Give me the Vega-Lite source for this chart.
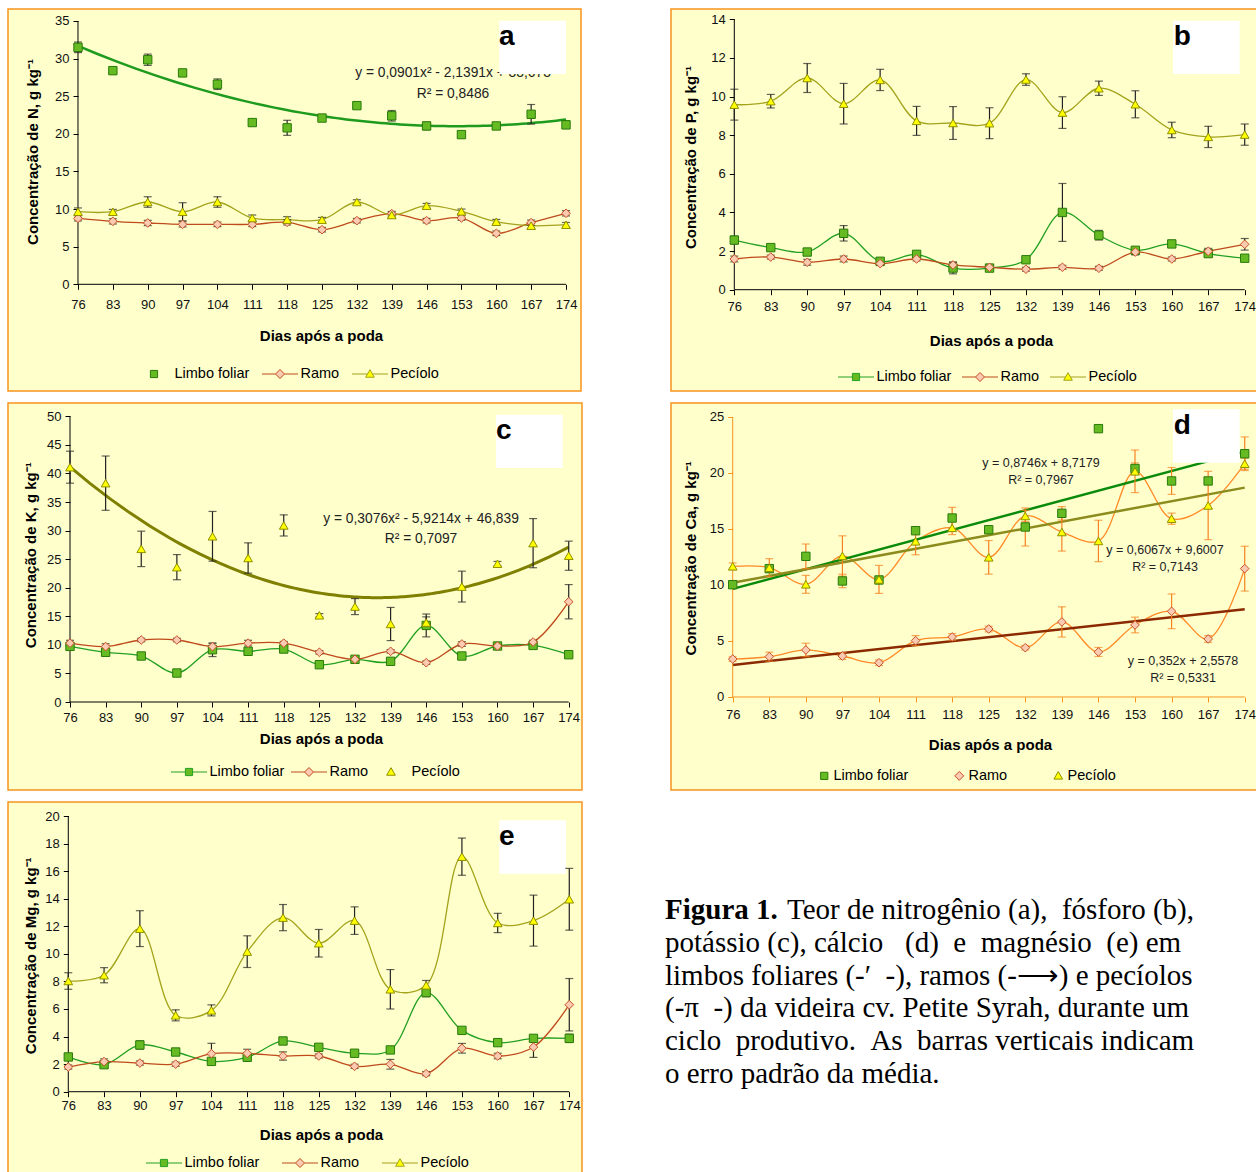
{
"$schema": "https://vega.github.io/schema/vega-lite/v6.json",
"background": "#FFFFFF",
"padding": {"left": 7, "top": 8, "right": 0, "bottom": 0},
"config": {"view": {"fill": "#FFFFCC", "stroke": "#F7941E", "strokeWidth": 1.5}, "font": "Liberation Sans", "concat": {"spacing": 10}},
"datasets": {
"N": [
{"dia":76,"serie":"Limbo foliar","v":31.5,"e":0.7},{"dia":83,"serie":"Limbo foliar","v":28.4,"e":0.4},{"dia":90,"serie":"Limbo foliar","v":29.85,"e":0.75},{"dia":97,"serie":"Limbo foliar","v":28.1,"e":0.3},{"dia":104,"serie":"Limbo foliar","v":26.6,"e":0.7},{"dia":111,"serie":"Limbo foliar","v":21.5,"e":0.4},{"dia":118,"serie":"Limbo foliar","v":20.8,"e":1.0},{"dia":125,"serie":"Limbo foliar","v":22.1,"e":0.4},{"dia":132,"serie":"Limbo foliar","v":23.75,"e":0.35},{"dia":139,"serie":"Limbo foliar","v":22.4,"e":0.7},{"dia":146,"serie":"Limbo foliar","v":21.05,"e":0.5},{"dia":153,"serie":"Limbo foliar","v":19.9,"e":0.3},{"dia":160,"serie":"Limbo foliar","v":21.05,"e":0.4},{"dia":167,"serie":"Limbo foliar","v":22.6,"e":1.3},{"dia":174,"serie":"Limbo foliar","v":21.2,"e":0.5},
{"dia":76,"serie":"Ramo","v":8.77,"e":0.35},{"dia":83,"serie":"Ramo","v":8.37,"e":0.35},{"dia":90,"serie":"Ramo","v":8.15,"e":0.35},{"dia":97,"serie":"Ramo","v":7.97,"e":0.35},{"dia":104,"serie":"Ramo","v":7.97,"e":0.3},{"dia":111,"serie":"Ramo","v":7.97,"e":0.3},{"dia":118,"serie":"Ramo","v":8.24,"e":0.35},{"dia":125,"serie":"Ramo","v":7.26,"e":0.3},{"dia":132,"serie":"Ramo","v":8.46,"e":0.3},{"dia":139,"serie":"Ramo","v":9.39,"e":0.3},{"dia":146,"serie":"Ramo","v":8.46,"e":0.3},{"dia":153,"serie":"Ramo","v":8.81,"e":0.3},{"dia":160,"serie":"Ramo","v":6.78,"e":0.3},{"dia":167,"serie":"Ramo","v":8.19,"e":0.35},{"dia":174,"serie":"Ramo","v":9.44,"e":0.35},
{"dia":76,"serie":"Pecíolo","v":9.65,"e":0.5},{"dia":83,"serie":"Pecíolo","v":9.65,"e":0.3},{"dia":90,"serie":"Pecíolo","v":10.94,"e":0.7},{"dia":97,"serie":"Pecíolo","v":9.65,"e":1.2},{"dia":104,"serie":"Pecíolo","v":10.94,"e":0.7},{"dia":111,"serie":"Pecíolo","v":8.81,"e":0.4},{"dia":118,"serie":"Pecíolo","v":8.59,"e":0.4},{"dia":125,"serie":"Pecíolo","v":8.59,"e":0.3},{"dia":132,"serie":"Pecíolo","v":10.94,"e":0.3},{"dia":139,"serie":"Pecíolo","v":9.21,"e":0.3},{"dia":146,"serie":"Pecíolo","v":10.45,"e":0.3},{"dia":153,"serie":"Pecíolo","v":9.7,"e":0.3},{"dia":160,"serie":"Pecíolo","v":8.32,"e":0.3},{"dia":167,"serie":"Pecíolo","v":7.79,"e":0.4},{"dia":174,"serie":"Pecíolo","v":7.92,"e":0.3}
],
"P": [
{"dia":76,"serie":"Limbo foliar","v":2.57,"e":0.2},{"dia":83,"serie":"Limbo foliar","v":2.18,"e":0.1},{"dia":90,"serie":"Limbo foliar","v":1.95,"e":0.1},{"dia":97,"serie":"Limbo foliar","v":2.92,"e":0.4},{"dia":104,"serie":"Limbo foliar","v":1.47,"e":0.1},{"dia":111,"serie":"Limbo foliar","v":1.83,"e":0.1},{"dia":118,"serie":"Limbo foliar","v":1.12,"e":0.3},{"dia":125,"serie":"Limbo foliar","v":1.12,"e":0.1},{"dia":132,"serie":"Limbo foliar","v":1.55,"e":0.1},{"dia":139,"serie":"Limbo foliar","v":4.0,"e":1.5},{"dia":146,"serie":"Limbo foliar","v":2.82,"e":0.25},{"dia":153,"serie":"Limbo foliar","v":2.04,"e":0.1},{"dia":160,"serie":"Limbo foliar","v":2.37,"e":0.15},{"dia":167,"serie":"Limbo foliar","v":1.87,"e":0.15},{"dia":174,"serie":"Limbo foliar","v":1.63,"e":0.1},
{"dia":76,"serie":"Ramo","v":1.59,"e":0.15},{"dia":83,"serie":"Ramo","v":1.69,"e":0.1},{"dia":90,"serie":"Ramo","v":1.42,"e":0.15},{"dia":97,"serie":"Ramo","v":1.59,"e":0.15},{"dia":104,"serie":"Ramo","v":1.35,"e":0.1},{"dia":111,"serie":"Ramo","v":1.59,"e":0.1},{"dia":118,"serie":"Ramo","v":1.28,"e":0.15},{"dia":125,"serie":"Ramo","v":1.16,"e":0.1},{"dia":132,"serie":"Ramo","v":1.06,"e":0.1},{"dia":139,"serie":"Ramo","v":1.16,"e":0.1},{"dia":146,"serie":"Ramo","v":1.11,"e":0.1},{"dia":153,"serie":"Ramo","v":1.95,"e":0.15},{"dia":160,"serie":"Ramo","v":1.59,"e":0.1},{"dia":167,"serie":"Ramo","v":1.99,"e":0.15},{"dia":174,"serie":"Ramo","v":2.35,"e":0.3},
{"dia":76,"serie":"Pecíolo","v":9.58,"e":0.8},{"dia":83,"serie":"Pecíolo","v":9.76,"e":0.35},{"dia":90,"serie":"Pecíolo","v":10.96,"e":0.75},{"dia":97,"serie":"Pecíolo","v":9.63,"e":1.05},{"dia":104,"serie":"Pecíolo","v":10.86,"e":0.55},{"dia":111,"serie":"Pecíolo","v":8.74,"e":0.75},{"dia":118,"serie":"Pecíolo","v":8.63,"e":0.85},{"dia":125,"serie":"Pecíolo","v":8.62,"e":0.8},{"dia":132,"serie":"Pecíolo","v":10.88,"e":0.3},{"dia":139,"serie":"Pecíolo","v":9.17,"e":0.82},{"dia":146,"serie":"Pecíolo","v":10.43,"e":0.37},{"dia":153,"serie":"Pecíolo","v":9.6,"e":0.7},{"dia":160,"serie":"Pecíolo","v":8.27,"e":0.4},{"dia":167,"serie":"Pecíolo","v":7.91,"e":0.55},{"dia":174,"serie":"Pecíolo","v":8.03,"e":0.55}
],
"K": [
{"dia":76,"serie":"Limbo foliar","v":9.74,"e":0.5},{"dia":83,"serie":"Limbo foliar","v":8.7,"e":0.5},{"dia":90,"serie":"Limbo foliar","v":8.05,"e":0.3},{"dia":97,"serie":"Limbo foliar","v":5.07,"e":0.2},{"dia":104,"serie":"Limbo foliar","v":9.15,"e":1.2},{"dia":111,"serie":"Limbo foliar","v":8.87,"e":0.4},{"dia":118,"serie":"Limbo foliar","v":9.27,"e":0.3},{"dia":125,"serie":"Limbo foliar","v":6.53,"e":0.3},{"dia":132,"serie":"Limbo foliar","v":7.47,"e":0.4},{"dia":139,"serie":"Limbo foliar","v":7.12,"e":0.3},{"dia":146,"serie":"Limbo foliar","v":13.4,"e":2.0},{"dia":153,"serie":"Limbo foliar","v":8.05,"e":0.4},{"dia":160,"serie":"Limbo foliar","v":9.8,"e":0.3},{"dia":167,"serie":"Limbo foliar","v":9.9,"e":0.5},{"dia":174,"serie":"Limbo foliar","v":8.28,"e":0.4},
{"dia":76,"serie":"Ramo","v":10.3,"e":0.5},{"dia":83,"serie":"Ramo","v":9.7,"e":0.5},{"dia":90,"serie":"Ramo","v":10.85,"e":0.3},{"dia":97,"serie":"Ramo","v":10.85,"e":0.3},{"dia":104,"serie":"Ramo","v":9.7,"e":0.5},{"dia":111,"serie":"Ramo","v":10.3,"e":0.5},{"dia":118,"serie":"Ramo","v":10.3,"e":0.3},{"dia":125,"serie":"Ramo","v":8.7,"e":0.3},{"dia":132,"serie":"Ramo","v":7.47,"e":0.3},{"dia":139,"serie":"Ramo","v":8.87,"e":0.3},{"dia":146,"serie":"Ramo","v":6.88,"e":0.3},{"dia":153,"serie":"Ramo","v":10.15,"e":0.4},{"dia":160,"serie":"Ramo","v":9.8,"e":0.3},{"dia":167,"serie":"Ramo","v":10.5,"e":0.3},{"dia":174,"serie":"Ramo","v":17.55,"e":3.0},
{"dia":76,"serie":"Pecíolo","v":41.1,"e":2.8},{"dia":83,"serie":"Pecíolo","v":38.3,"e":4.75},{"dia":90,"serie":"Pecíolo","v":26.8,"e":3.1},{"dia":97,"serie":"Pecíolo","v":23.6,"e":2.2},{"dia":104,"serie":"Pecíolo","v":29.0,"e":4.35},{"dia":111,"serie":"Pecíolo","v":25.2,"e":2.65},{"dia":118,"serie":"Pecíolo","v":30.9,"e":1.85},{"dia":125,"serie":"Pecíolo","v":15.17,"e":0.3},{"dia":132,"serie":"Pecíolo","v":16.7,"e":1.4},{"dia":139,"serie":"Pecíolo","v":13.65,"e":2.9},{"dia":146,"serie":"Pecíolo","v":13.9,"e":1.0},{"dia":153,"serie":"Pecíolo","v":20.2,"e":2.7},{"dia":160,"serie":"Pecíolo","v":24.2,"e":0.4},{"dia":167,"serie":"Pecíolo","v":27.8,"e":4.3},{"dia":174,"serie":"Pecíolo","v":25.6,"e":2.55}
],
"Ca": [
{"dia":76,"serie":"Limbo foliar","v":10.03,"e":0.2},{"dia":83,"serie":"Limbo foliar","v":11.46,"e":0.3},{"dia":90,"serie":"Limbo foliar","v":12.56,"e":1.1},{"dia":97,"serie":"Limbo foliar","v":10.36,"e":0.6},{"dia":104,"serie":"Limbo foliar","v":10.45,"e":0.3},{"dia":111,"serie":"Limbo foliar","v":14.85,"e":0.35},{"dia":118,"serie":"Limbo foliar","v":15.98,"e":0.95},{"dia":125,"serie":"Limbo foliar","v":14.94,"e":0.3},{"dia":132,"serie":"Limbo foliar","v":15.18,"e":1.7},{"dia":139,"serie":"Limbo foliar","v":16.4,"e":0.6},{"dia":146,"serie":"Limbo foliar","v":23.96,"e":0.3},{"dia":153,"serie":"Limbo foliar","v":20.4,"e":0.5},{"dia":160,"serie":"Limbo foliar","v":19.29,"e":1.2},{"dia":167,"serie":"Limbo foliar","v":19.29,"e":0.3},{"dia":174,"serie":"Limbo foliar","v":21.72,"e":1.5},
{"dia":76,"serie":"Ramo","v":3.39,"e":0.2},{"dia":83,"serie":"Ramo","v":3.6,"e":0.4},{"dia":90,"serie":"Ramo","v":4.2,"e":0.6},{"dia":97,"serie":"Ramo","v":3.66,"e":0.3},{"dia":104,"serie":"Ramo","v":3.06,"e":0.25},{"dia":111,"serie":"Ramo","v":5.03,"e":0.45},{"dia":118,"serie":"Ramo","v":5.36,"e":0.3},{"dia":125,"serie":"Ramo","v":6.07,"e":0.25},{"dia":132,"serie":"Ramo","v":4.4,"e":0.2},{"dia":139,"serie":"Ramo","v":6.7,"e":1.35},{"dia":146,"serie":"Ramo","v":4.02,"e":0.4},{"dia":153,"serie":"Ramo","v":6.43,"e":0.7},{"dia":160,"serie":"Ramo","v":7.65,"e":1.55},{"dia":167,"serie":"Ramo","v":5.18,"e":0.3},{"dia":174,"serie":"Ramo","v":11.46,"e":2.0},
{"dia":76,"serie":"Pecíolo","v":11.67,"e":0.3},{"dia":83,"serie":"Pecíolo","v":11.55,"e":0.8},{"dia":90,"serie":"Pecíolo","v":10.06,"e":0.8},{"dia":97,"serie":"Pecíolo","v":12.59,"e":1.8},{"dia":104,"serie":"Pecíolo","v":10.5,"e":1.25},{"dia":111,"serie":"Pecíolo","v":13.9,"e":1.2},{"dia":118,"serie":"Pecíolo","v":15.1,"e":0.6},{"dia":125,"serie":"Pecíolo","v":12.47,"e":1.5},{"dia":132,"serie":"Pecíolo","v":16.16,"e":0.5},{"dia":139,"serie":"Pecíolo","v":14.73,"e":1.7},{"dia":146,"serie":"Pecíolo","v":13.93,"e":1.85},{"dia":153,"serie":"Pecíolo","v":20.15,"e":1.9},{"dia":160,"serie":"Pecíolo","v":15.92,"e":0.5},{"dia":167,"serie":"Pecíolo","v":17.1,"e":3.05},{"dia":174,"serie":"Pecíolo","v":20.83,"e":0.5}
],
"Mg": [
{"dia":76,"serie":"Limbo foliar","v":2.52,"e":0.15},{"dia":83,"serie":"Limbo foliar","v":1.96,"e":0.2},{"dia":90,"serie":"Limbo foliar","v":3.39,"e":0.3},{"dia":97,"serie":"Limbo foliar","v":2.88,"e":0.2},{"dia":104,"serie":"Limbo foliar","v":2.2,"e":0.15},{"dia":111,"serie":"Limbo foliar","v":2.5,"e":0.3},{"dia":118,"serie":"Limbo foliar","v":3.68,"e":0.15},{"dia":125,"serie":"Limbo foliar","v":3.22,"e":0.15},{"dia":132,"serie":"Limbo foliar","v":2.79,"e":0.15},{"dia":139,"serie":"Limbo foliar","v":3.03,"e":0.15},{"dia":146,"serie":"Limbo foliar","v":7.19,"e":0.3},{"dia":153,"serie":"Limbo foliar","v":4.45,"e":0.15},{"dia":160,"serie":"Limbo foliar","v":3.56,"e":0.2},{"dia":167,"serie":"Limbo foliar","v":3.87,"e":0.15},{"dia":174,"serie":"Limbo foliar","v":3.87,"e":0.3},
{"dia":76,"serie":"Ramo","v":1.79,"e":0.15},{"dia":83,"serie":"Ramo","v":2.18,"e":0.2},{"dia":90,"serie":"Ramo","v":2.08,"e":0.15},{"dia":97,"serie":"Ramo","v":2.0,"e":0.15},{"dia":104,"serie":"Ramo","v":2.76,"e":0.75},{"dia":111,"serie":"Ramo","v":2.78,"e":0.3},{"dia":118,"serie":"Ramo","v":2.59,"e":0.3},{"dia":125,"serie":"Ramo","v":2.59,"e":0.15},{"dia":132,"serie":"Ramo","v":1.84,"e":0.15},{"dia":139,"serie":"Ramo","v":1.99,"e":0.35},{"dia":146,"serie":"Ramo","v":1.31,"e":0.15},{"dia":153,"serie":"Ramo","v":3.15,"e":0.35},{"dia":160,"serie":"Ramo","v":2.59,"e":0.2},{"dia":167,"serie":"Ramo","v":3.24,"e":0.75},{"dia":174,"serie":"Ramo","v":6.31,"e":1.9},
{"dia":76,"serie":"Pecíolo","v":8.03,"e":0.6},{"dia":83,"serie":"Pecíolo","v":8.45,"e":0.55},{"dia":90,"serie":"Pecíolo","v":11.83,"e":1.3},{"dia":97,"serie":"Pecíolo","v":5.54,"e":0.4},{"dia":104,"serie":"Pecíolo","v":5.9,"e":0.4},{"dia":111,"serie":"Pecíolo","v":10.16,"e":1.15},{"dia":118,"serie":"Pecíolo","v":12.63,"e":0.95},{"dia":125,"serie":"Pecíolo","v":10.77,"e":1.0},{"dia":132,"serie":"Pecíolo","v":12.41,"e":1.0},{"dia":139,"serie":"Pecíolo","v":7.43,"e":1.43},{"dia":146,"serie":"Pecíolo","v":7.72,"e":0.35},{"dia":153,"serie":"Pecíolo","v":17.05,"e":1.35},{"dia":160,"serie":"Pecíolo","v":12.24,"e":0.7},{"dia":167,"serie":"Pecíolo","v":12.41,"e":1.85},{"dia":174,"serie":"Pecíolo","v":13.96,"e":2.24}
],
"cap": [
{"linha":1,"peso":"b","txt":"Figura 1."},
{"linha":1,"peso":"r","txt":"Teor de nitrogênio (a),\u00a0 fósforo (b),"},
{"linha":2,"peso":"n","txt":"potássio (c), cálcio\u00a0\u00a0\u00a0(d)\u00a0\u00a0e\u00a0\u00a0magnésio\u00a0\u00a0(e) em"},
{"linha":3,"peso":"n","txt":"limbos foliares (-′\u00a0\u00a0-), ramos (-⟶) e pecíolos"},
{"linha":4,"peso":"n","txt":"(-π\u00a0\u00a0-) da videira cv. Petite Syrah, durante um"},
{"linha":5,"peso":"n","txt":"ciclo\u00a0\u00a0produtivo.\u00a0\u00a0As\u00a0\u00a0barras verticais indicam"},
{"linha":6,"peso":"n","txt":"o erro padrão da média."}
]
},
"resolve": {"scale": {"shape": "independent", "fill": "independent", "stroke": "independent"}},
"vconcat": [
{"resolve": {"scale": {"shape": "independent", "fill": "independent", "stroke": "independent"}},
"hconcat": [
{
"width": 573, "height": 382,
"data": {"name": "N"},
"encoding": {
"x": {"type": "quantitative", "scale": {"domain": [61.943, 177.01], "nice": false, "zero": false},
 "axis": {"title": "Dias após a poda", "values": [76,83,90,97,104,111,118,125,132,139,146,153,160,167,174], "domain": false, "grid": false, "offset": -106.7, "tickSize": 5, "tickColor": "#000", "labelFontSize": 13, "labelColor": "#111", "labelPadding": 9, "labelFlush": false, "labelOverlap": false, "titleFontSize": 15, "titleFontWeight": "bold", "titleColor": "#000", "titleX": 313, "titleY": 50.7, "titleBaseline": "middle", "titleAlign": "center", "titleAngle": 0}},
"y": {"type": "quantitative", "scale": {"domain": [-14.182, 36.595], "nice": false, "zero": false},
 "axis": {"title": "Concentração de N, g kg⁻¹", "values": [0,5,10,15,20,25,30,35], "domain": false, "grid": false, "offset": -70, "tickSize": 5, "tickColor": "#000", "labelFontSize": 13, "labelColor": "#111", "labelPadding": 4, "labelOverlap": false, "titleFontSize": 15, "titleFontWeight": "bold", "titleColor": "#000", "titleX": -45.5, "titleY": 142.5, "titleBaseline": "middle", "titleAlign": "center", "titleAngle": -90}}
},
"layer": [
{"encoding": {"x": {"field": "dia"}, "y": {"field": "v"}},
"layer": [
{"transform": [{"filter": {"field": "serie", "equal": "Ramo"}}], "mark": {"type": "line", "interpolate": "catmull-rom", "strokeWidth": 1.3, "color": "#BF4A1C"}},
{"transform": [{"filter": {"field": "serie", "equal": "Pecíolo"}}], "mark": {"type": "line", "interpolate": "catmull-rom", "strokeWidth": 1.3, "color": "#A3A31C"}},
{"transform": [{"filter": {"field": "serie", "equal": "Limbo foliar"}}, {"regression": "v", "on": "dia", "method": "poly", "order": 2, "extent": [76, 174]}], "mark": {"type": "line", "color": "#1E9A1E", "strokeWidth": 2.5}}
]},
{"data": {"values": [{}]}, "mark": {"type": "text", "text": ["y = 0,0901x² - 2,1391x + 33,673", "R² = 0,8486"], "fontSize": 13.8, "lineHeight": 21, "align": "center", "baseline": "middle", "color": "#222"}, "encoding": {"x": {"datum": 151.31}, "y": {"datum": 28.09}}},
{"data": {"values": [{}]}, "mark": {"type": "rect", "fill": "#FFFFFF"}, "encoding": {"x": {"datum": 160.6}, "x2": {"datum": 174.0}, "y": {"datum": 35.04}, "y2": {"datum": 27.955}}},
{"data": {"values": [{}]}, "mark": {"type": "rule", "color": "#000", "strokeWidth": 1}, "encoding": {"x": {"datum": 76}, "x2": {"datum": 174}, "y": {"datum": 0}}},
{"data": {"values": [{}]}, "mark": {"type": "rule", "color": "#000", "strokeWidth": 1}, "encoding": {"x": {"datum": 76}, "y": {"datum": 0}, "y2": {"datum": 35}}},
{"encoding": {"x": {"field": "dia"}, "y": {"field": "v"}},
"layer": [
{"mark": {"type": "errorbar", "ticks": {"size": 8, "thickness": 1.2, "color": "#222"}, "rule": {"strokeWidth": 1.2, "color": "#222"}, "color": "#222"}, "encoding": {"yError": {"field": "e"}}},
{"transform": [{"filter": {"field": "serie", "equal": "Limbo foliar"}}], "mark": {"type": "point", "shape": "square", "filled": true, "fill": "#66BB22", "stroke": "#2A7A0A", "strokeWidth": 1, "size": 70, "opacity": 1}},
{"transform": [{"filter": {"field": "serie", "equal": "Ramo"}}], "mark": {"type": "point", "shape": "diamond", "filled": true, "fill": "#FACBB0", "stroke": "#C8502A", "strokeWidth": 1, "size": 75, "opacity": 1}},
{"transform": [{"filter": {"field": "serie", "equal": "Pecíolo"}}], "mark": {"type": "point", "shape": "triangle-up", "filled": true, "fill": "#FFFF00", "stroke": "#8F8F00", "strokeWidth": 1, "size": 75, "opacity": 1}},
{"transform": [{"filter": "false"}], "mark": {"type": "point", "filled": true, "opacity": 1, "strokeWidth": 1},
 "encoding": {
  "shape": {"field": "serie", "type": "nominal", "scale": {"domain": ["Limbo foliar","Ramo","Pecíolo"], "range": ["M-0.2,-0.2H0.2V0.2H-0.2Z", "M-1,0H-0.25M0.25,0H1M0,-0.25L0.25,0L0,0.25L-0.25,0Z", "M-1,0H-0.14M0.14,0H1M0,-0.24L0.24,0.18L-0.24,0.18Z"]},
   "legend": {"orient": "none", "legendX": 127.5, "legendY": 346.5, "direction": "horizontal", "title": null, "symbolSize": 1296, "symbolStrokeWidth": 1, "labelFontSize": 14.5, "labelColor": "#000", "labelOffset": 2, "columnPadding": 10, "padding": 0}},
  "fill": {"field": "serie", "type": "nominal", "scale": {"domain": ["Limbo foliar","Ramo","Pecíolo"], "range": ["#66BB22","#FACBB0","#FFFF00"]},
   "legend": {"orient": "none", "legendX": 127.5, "legendY": 346.5, "direction": "horizontal", "title": null, "symbolSize": 1296, "symbolStrokeWidth": 1, "labelFontSize": 14.5, "labelColor": "#000", "labelOffset": 2, "columnPadding": 10, "padding": 0}},
  "stroke": {"field": "serie", "type": "nominal", "scale": {"domain": ["Limbo foliar","Ramo","Pecíolo"], "range": ["#2A7A0A","#BF4A1C","#A3A31C"]},
   "legend": {"orient": "none", "legendX": 127.5, "legendY": 346.5, "direction": "horizontal", "title": null, "symbolSize": 1296, "symbolStrokeWidth": 1, "labelFontSize": 14.5, "labelColor": "#000", "labelOffset": 2, "columnPadding": 10, "padding": 0}}
 }}
]},
{"data": {"values": [{}]}, "mark": {"type": "text", "text": "a", "fontSize": 28, "fontWeight": "bold", "align": "left", "baseline": "alphabetic", "color": "#000"}, "encoding": {"x": {"datum": 160.54}, "y": {"datum": 31.81}}}
]
},
{
"width": 586, "height": 382,
"data": {"name": "P"},
"encoding": {
"x": {"type": "quantitative", "scale": {"domain": [63.846, 176.36], "nice": false, "zero": false},
 "axis": {"title": "Dias após a poda", "values": [76,83,90,97,104,111,118,125,132,139,146,153,160,167,174], "domain": false, "grid": false, "offset": -101.3, "tickSize": 5, "tickColor": "#000", "labelFontSize": 13, "labelColor": "#111", "labelPadding": 6, "labelFlush": false, "labelOverlap": false, "titleFontSize": 15, "titleFontWeight": "bold", "titleColor": "#000", "titleX": 320, "titleY": 50.3, "titleBaseline": "middle", "titleAlign": "center", "titleAngle": 0}},
"y": {"type": "quantitative", "scale": {"domain": [-5.245, 14.533], "nice": false, "zero": false},
 "axis": {"title": "Concentração de P, g kg⁻¹", "values": [0,2,4,6,8,10,12,14], "domain": false, "grid": false, "offset": -63.3, "tickSize": 5, "tickColor": "#000", "labelFontSize": 13, "labelColor": "#111", "labelPadding": 4, "labelOverlap": false, "titleFontSize": 15, "titleFontWeight": "bold", "titleColor": "#000", "titleX": -43.8, "titleY": 148, "titleBaseline": "middle", "titleAlign": "center", "titleAngle": -90}}
},
"layer": [
{"encoding": {"x": {"field": "dia"}, "y": {"field": "v"}},
"layer": [
{"transform": [{"filter": {"field": "serie", "equal": "Limbo foliar"}}], "mark": {"type": "line", "interpolate": "catmull-rom", "strokeWidth": 1.3, "color": "#22A022"}},
{"transform": [{"filter": {"field": "serie", "equal": "Ramo"}}], "mark": {"type": "line", "interpolate": "catmull-rom", "strokeWidth": 1.3, "color": "#BF4A1C"}},
{"transform": [{"filter": {"field": "serie", "equal": "Pecíolo"}}], "mark": {"type": "line", "interpolate": "catmull-rom", "strokeWidth": 1.3, "color": "#A3A31C"}}
]},
{"data": {"values": [{}]}, "mark": {"type": "rect", "fill": "#FFFFFF"}, "encoding": {"x": {"datum": 160.23}, "x2": {"datum": 173.04}, "y": {"datum": 13.927}, "y2": {"datum": 11.168}}},
{"data": {"values": [{}]}, "mark": {"type": "rule", "color": "#000", "strokeWidth": 1}, "encoding": {"x": {"datum": 76}, "x2": {"datum": 174}, "y": {"datum": 0}}},
{"data": {"values": [{}]}, "mark": {"type": "rule", "color": "#000", "strokeWidth": 1}, "encoding": {"x": {"datum": 76}, "y": {"datum": 0}, "y2": {"datum": 14}}},
{"encoding": {"x": {"field": "dia"}, "y": {"field": "v"}},
"layer": [
{"mark": {"type": "errorbar", "ticks": {"size": 8, "thickness": 1.2, "color": "#222"}, "rule": {"strokeWidth": 1.2, "color": "#222"}, "color": "#222"}, "encoding": {"yError": {"field": "e"}}},
{"transform": [{"filter": {"field": "serie", "equal": "Limbo foliar"}}], "mark": {"type": "point", "shape": "square", "filled": true, "fill": "#66BB22", "stroke": "#2A7A0A", "strokeWidth": 1, "size": 70, "opacity": 1}},
{"transform": [{"filter": {"field": "serie", "equal": "Ramo"}}], "mark": {"type": "point", "shape": "diamond", "filled": true, "fill": "#FACBB0", "stroke": "#C8502A", "strokeWidth": 1, "size": 75, "opacity": 1}},
{"transform": [{"filter": {"field": "serie", "equal": "Pecíolo"}}], "mark": {"type": "point", "shape": "triangle-up", "filled": true, "fill": "#FFFF00", "stroke": "#8F8F00", "strokeWidth": 1, "size": 75, "opacity": 1}},
{"transform": [{"filter": "false"}], "mark": {"type": "point", "filled": true, "opacity": 1, "strokeWidth": 1},
 "encoding": {
  "shape": {"field": "serie", "type": "nominal", "scale": {"domain": ["Limbo foliar","Ramo","Pecíolo"], "range": ["M-1,0H-0.2M0.2,0H1M-0.2,-0.2H0.2V0.2H-0.2Z", "M-1,0H-0.25M0.25,0H1M0,-0.25L0.25,0L0,0.25L-0.25,0Z", "M-1,0H-0.14M0.14,0H1M0,-0.24L0.24,0.18L-0.24,0.18Z"]},
   "legend": {"orient": "none", "legendX": 166.5, "legendY": 349.5, "direction": "horizontal", "title": null, "symbolSize": 1296, "symbolStrokeWidth": 1, "labelFontSize": 14.5, "labelColor": "#000", "labelOffset": 2, "columnPadding": 8, "padding": 0}},
  "fill": {"field": "serie", "type": "nominal", "scale": {"domain": ["Limbo foliar","Ramo","Pecíolo"], "range": ["#66BB22","#FACBB0","#FFFF00"]},
   "legend": {"orient": "none", "legendX": 166.5, "legendY": 349.5, "direction": "horizontal", "title": null, "symbolSize": 1296, "symbolStrokeWidth": 1, "labelFontSize": 14.5, "labelColor": "#000", "labelOffset": 2, "columnPadding": 8, "padding": 0}},
  "stroke": {"field": "serie", "type": "nominal", "scale": {"domain": ["Limbo foliar","Ramo","Pecíolo"], "range": ["#22A022","#BF4A1C","#A3A31C"]},
   "legend": {"orient": "none", "legendX": 166.5, "legendY": 349.5, "direction": "horizontal", "title": null, "symbolSize": 1296, "symbolStrokeWidth": 1, "labelFontSize": 14.5, "labelColor": "#000", "labelOffset": 2, "columnPadding": 8, "padding": 0}}
 }}
]},
{"data": {"values": [{}]}, "mark": {"type": "text", "text": "b", "fontSize": 28, "fontWeight": "bold", "align": "left", "baseline": "alphabetic", "color": "#000"}, "encoding": {"x": {"datum": 160.37}, "y": {"datum": 12.669}}}
]
}
], "spacing": 88},
{"resolve": {"scale": {"shape": "independent", "fill": "independent", "stroke": "independent"}},
"hconcat": [
{
"width": 574, "height": 387,
"data": {"name": "K"},
"encoding": {
"x": {"type": "quantitative", "scale": {"domain": [63.816, 176.61], "nice": false, "zero": false},
 "axis": {"title": "Dias após a poda", "values": [76,83,90,97,104,111,118,125,132,139,146,153,160,167,174], "domain": false, "grid": false, "offset": -88, "tickSize": 5, "tickColor": "#000", "labelFontSize": 13, "labelColor": "#111", "labelPadding": 4, "labelFlush": false, "labelOverlap": false, "titleFontSize": 15, "titleFontWeight": "bold", "titleColor": "#000", "titleX": 313, "titleY": 36, "titleBaseline": "middle", "titleAlign": "center", "titleAngle": 0}},
"y": {"type": "quantitative", "scale": {"domain": [-15.4, 52.328], "nice": false, "zero": false},
 "axis": {"title": "Concentração de K, g kg⁻¹", "values": [0,5,10,15,20,25,30,35,40,45,50], "domain": false, "grid": false, "offset": -62, "tickSize": 5, "tickColor": "#000", "labelFontSize": 13, "labelColor": "#111", "labelPadding": 4, "labelOverlap": false, "titleFontSize": 15, "titleFontWeight": "bold", "titleColor": "#000", "titleX": -39.7, "titleY": 151.7, "titleBaseline": "middle", "titleAlign": "center", "titleAngle": -90}}
},
"layer": [
{"encoding": {"x": {"field": "dia"}, "y": {"field": "v"}},
"layer": [
{"transform": [{"filter": {"field": "serie", "equal": "Limbo foliar"}}], "mark": {"type": "line", "interpolate": "catmull-rom", "strokeWidth": 1.3, "color": "#22A022"}},
{"transform": [{"filter": {"field": "serie", "equal": "Ramo"}}], "mark": {"type": "line", "interpolate": "catmull-rom", "strokeWidth": 1.3, "color": "#BF4A1C"}},
{"transform": [{"filter": {"field": "serie", "equal": "Pecíolo"}}, {"regression": "v", "on": "dia", "method": "poly", "order": 2, "extent": [76, 174]}], "mark": {"type": "line", "color": "#7F7F00", "strokeWidth": 3}}
]},
{"data": {"values": [{}]}, "mark": {"type": "text", "text": ["y = 0,3076x² - 5,9214x + 46,839", "R² = 0,7097"], "fontSize": 13.8, "lineHeight": 20, "align": "center", "baseline": "middle", "color": "#222"}, "encoding": {"x": {"datum": 144.98}, "y": {"datum": 32.0}}},
{"data": {"values": [{}]}, "mark": {"type": "rect", "fill": "#FFFFFF"}, "encoding": {"x": {"datum": 159.71}, "x2": {"datum": 172.82}, "y": {"datum": 50.28}, "y2": {"datum": 40.95}}},
{"data": {"values": [{}]}, "mark": {"type": "rule", "color": "#000", "strokeWidth": 1}, "encoding": {"x": {"datum": 76}, "x2": {"datum": 174}, "y": {"datum": 0}}},
{"data": {"values": [{}]}, "mark": {"type": "rule", "color": "#000", "strokeWidth": 1}, "encoding": {"x": {"datum": 76}, "y": {"datum": 0}, "y2": {"datum": 50}}},
{"encoding": {"x": {"field": "dia"}, "y": {"field": "v"}},
"layer": [
{"mark": {"type": "errorbar", "ticks": {"size": 8, "thickness": 1.2, "color": "#222"}, "rule": {"strokeWidth": 1.2, "color": "#222"}, "color": "#222"}, "encoding": {"yError": {"field": "e"}}},
{"transform": [{"filter": {"field": "serie", "equal": "Limbo foliar"}}], "mark": {"type": "point", "shape": "square", "filled": true, "fill": "#66BB22", "stroke": "#2A7A0A", "strokeWidth": 1, "size": 70, "opacity": 1}},
{"transform": [{"filter": {"field": "serie", "equal": "Ramo"}}], "mark": {"type": "point", "shape": "diamond", "filled": true, "fill": "#FACBB0", "stroke": "#C8502A", "strokeWidth": 1, "size": 75, "opacity": 1}},
{"transform": [{"filter": {"field": "serie", "equal": "Pecíolo"}}], "mark": {"type": "point", "shape": "triangle-up", "filled": true, "fill": "#FFFF00", "stroke": "#8F8F00", "strokeWidth": 1, "size": 75, "opacity": 1}},
{"transform": [{"filter": "false"}], "mark": {"type": "point", "filled": true, "opacity": 1, "strokeWidth": 1},
 "encoding": {
  "shape": {"field": "serie", "type": "nominal", "scale": {"domain": ["Limbo foliar","Ramo","Pecíolo"], "range": ["M-1,0H-0.2M0.2,0H1M-0.2,-0.2H0.2V0.2H-0.2Z", "M-1,0H-0.25M0.25,0H1M0,-0.25L0.25,0L0,0.25L-0.25,0Z", "M0,-0.24L0.24,0.18L-0.24,0.18Z"]},
   "legend": {"orient": "none", "legendX": 162.5, "legendY": 350.5, "direction": "horizontal", "title": null, "symbolSize": 1296, "symbolStrokeWidth": 1, "labelFontSize": 14.5, "labelColor": "#000", "labelOffset": 2, "columnPadding": 4, "padding": 0}},
  "fill": {"field": "serie", "type": "nominal", "scale": {"domain": ["Limbo foliar","Ramo","Pecíolo"], "range": ["#66BB22","#FACBB0","#FFFF00"]},
   "legend": {"orient": "none", "legendX": 162.5, "legendY": 350.5, "direction": "horizontal", "title": null, "symbolSize": 1296, "symbolStrokeWidth": 1, "labelFontSize": 14.5, "labelColor": "#000", "labelOffset": 2, "columnPadding": 4, "padding": 0}},
  "stroke": {"field": "serie", "type": "nominal", "scale": {"domain": ["Limbo foliar","Ramo","Pecíolo"], "range": ["#22A022","#BF4A1C","#8F8F00"]},
   "legend": {"orient": "none", "legendX": 162.5, "legendY": 350.5, "direction": "horizontal", "title": null, "symbolSize": 1296, "symbolStrokeWidth": 1, "labelFontSize": 14.5, "labelColor": "#000", "labelOffset": 2, "columnPadding": 4, "padding": 0}}
 }}
]},
{"data": {"values": [{}]}, "mark": {"type": "text", "text": "c", "fontSize": 28, "fontWeight": "bold", "align": "left", "baseline": "alphabetic", "color": "#000"}, "encoding": {"x": {"datum": 159.71}, "y": {"datum": 46.03}}}
]
},
{
"width": 586, "height": 387,
"data": {"name": "Ca"},
"encoding": {
"x": {"type": "quantitative", "scale": {"domain": [64.19, 176.35], "nice": false, "zero": false},
 "axis": {"title": "Dias após a poda", "values": [76,83,90,97,104,111,118,125,132,139,146,153,160,167,174], "domain": false, "grid": false, "offset": -93, "tickSize": 5, "tickColor": "#F7941E", "labelFontSize": 13, "labelColor": "#111", "labelPadding": 6, "labelFlush": false, "labelOverlap": false, "titleFontSize": 15, "titleFontWeight": "bold", "titleColor": "#000", "titleX": 319, "titleY": 47, "titleBaseline": "middle", "titleAlign": "center", "titleAngle": 0}},
"y": {"type": "quantitative", "scale": {"domain": [-8.304, 26.25], "nice": false, "zero": false},
 "axis": {"title": "Concentração de Ca, g kg⁻¹", "values": [0,5,10,15,20,25], "domain": false, "grid": false, "offset": -61.7, "tickSize": 5, "tickColor": "#F7941E", "labelFontSize": 13, "labelColor": "#111", "labelPadding": 4, "labelOverlap": false, "titleFontSize": 15, "titleFontWeight": "bold", "titleColor": "#000", "titleX": -42, "titleY": 154.8, "titleBaseline": "middle", "titleAlign": "center", "titleAngle": -90}}
},
"layer": [
{"encoding": {"x": {"field": "dia"}, "y": {"field": "v"}},
"layer": [
{"transform": [{"filter": {"field": "serie", "equal": "Ramo"}}], "mark": {"type": "line", "interpolate": "catmull-rom", "strokeWidth": 1.3, "color": "#FF8A26"}},
{"transform": [{"filter": {"field": "serie", "equal": "Pecíolo"}}], "mark": {"type": "line", "interpolate": "catmull-rom", "strokeWidth": 1.3, "color": "#FF8A26"}},
{"transform": [{"filter": {"field": "serie", "equal": "Limbo foliar"}}, {"regression": "v", "on": "dia", "extent": [76, 174]}], "mark": {"type": "line", "color": "#0A8A0A", "strokeWidth": 2.5}},
{"transform": [{"filter": {"field": "serie", "equal": "Pecíolo"}}, {"regression": "v", "on": "dia", "extent": [76, 174]}], "mark": {"type": "line", "color": "#8C8C1E", "strokeWidth": 2.5}},
{"transform": [{"filter": {"field": "serie", "equal": "Ramo"}}, {"regression": "v", "on": "dia", "extent": [76, 174]}], "mark": {"type": "line", "color": "#8B2A00", "strokeWidth": 2.5}}
]},
{"data": {"values": [{}]}, "mark": {"type": "text", "text": ["y = 0,8746x + 8,7179", "R² = 0,7967"], "fontSize": 12.5, "lineHeight": 17, "align": "center", "baseline": "middle", "color": "#222"}, "encoding": {"x": {"datum": 135.0}, "y": {"datum": 20.92}}},
{"data": {"values": [{}]}, "mark": {"type": "text", "text": ["y = 0,6067x + 9,6007", "R² = 0,7143"], "fontSize": 12.5, "lineHeight": 17, "align": "center", "baseline": "middle", "color": "#222"}, "encoding": {"x": {"datum": 158.74}, "y": {"datum": 13.15}}},
{"data": {"values": [{}]}, "mark": {"type": "text", "text": ["y = 0,352x + 2,5578", "R² = 0,5331"], "fontSize": 12.5, "lineHeight": 17, "align": "center", "baseline": "middle", "color": "#222"}, "encoding": {"x": {"datum": 162.19}, "y": {"datum": 3.21}}},
{"data": {"values": [{}]}, "mark": {"type": "rect", "fill": "#FFFFFF"}, "encoding": {"x": {"datum": 160.28}, "x2": {"datum": 173.04}, "y": {"datum": 25.69}, "y2": {"datum": 20.92}}},
{"data": {"values": [{}]}, "mark": {"type": "rule", "color": "#F7941E", "strokeWidth": 1}, "encoding": {"x": {"datum": 76}, "x2": {"datum": 174}, "y": {"datum": 0}}},
{"data": {"values": [{}]}, "mark": {"type": "rule", "color": "#F7941E", "strokeWidth": 1}, "encoding": {"x": {"datum": 76}, "y": {"datum": 0}, "y2": {"datum": 25}}},
{"encoding": {"x": {"field": "dia"}, "y": {"field": "v"}},
"layer": [
{"mark": {"type": "errorbar", "ticks": {"size": 8, "thickness": 1.2, "color": "#F5821F"}, "rule": {"strokeWidth": 1.2, "color": "#F5821F"}, "color": "#F5821F"}, "encoding": {"yError": {"field": "e"}}},
{"transform": [{"filter": {"field": "serie", "equal": "Limbo foliar"}}], "mark": {"type": "point", "shape": "square", "filled": true, "fill": "#66BB22", "stroke": "#2A7A0A", "strokeWidth": 1, "size": 70, "opacity": 1}},
{"transform": [{"filter": {"field": "serie", "equal": "Ramo"}}], "mark": {"type": "point", "shape": "diamond", "filled": true, "fill": "#FACBB0", "stroke": "#C8502A", "strokeWidth": 1, "size": 75, "opacity": 1}},
{"transform": [{"filter": {"field": "serie", "equal": "Pecíolo"}}], "mark": {"type": "point", "shape": "triangle-up", "filled": true, "fill": "#FFFF00", "stroke": "#8F8F00", "strokeWidth": 1, "size": 75, "opacity": 1}},
{"transform": [{"filter": "false"}], "mark": {"type": "point", "filled": true, "opacity": 1, "strokeWidth": 1},
 "encoding": {
  "shape": {"field": "serie", "type": "nominal", "scale": {"domain": ["Limbo foliar","Ramo","Pecíolo"], "range": ["M-0.6,-0.6H0.6V0.6H-0.6Z", "M0,-0.75L0.75,0L0,0.75L-0.75,0Z", "M0,-0.72L0.72,0.54L-0.72,0.54Z"]},
   "legend": {"orient": "none", "legendX": 146, "legendY": 365.5, "direction": "horizontal", "title": null, "symbolSize": 144, "symbolStrokeWidth": 1, "labelFontSize": 14.5, "labelColor": "#000", "labelOffset": 2, "columnPadding": 43, "padding": 0}},
  "fill": {"field": "serie", "type": "nominal", "scale": {"domain": ["Limbo foliar","Ramo","Pecíolo"], "range": ["#66BB22","#FACBB0","#FFFF00"]},
   "legend": {"orient": "none", "legendX": 146, "legendY": 365.5, "direction": "horizontal", "title": null, "symbolSize": 144, "symbolStrokeWidth": 1, "labelFontSize": 14.5, "labelColor": "#000", "labelOffset": 2, "columnPadding": 43, "padding": 0}},
  "stroke": {"field": "serie", "type": "nominal", "scale": {"domain": ["Limbo foliar","Ramo","Pecíolo"], "range": ["#2A7A0A","#C8502A","#8F8F00"]},
   "legend": {"orient": "none", "legendX": 146, "legendY": 365.5, "direction": "horizontal", "title": null, "symbolSize": 144, "symbolStrokeWidth": 1, "labelFontSize": 14.5, "labelColor": "#000", "labelOffset": 2, "columnPadding": 43, "padding": 0}}
 }}
]},
{"data": {"values": [{}]}, "mark": {"type": "text", "text": "d", "fontSize": 28, "fontWeight": "bold", "align": "left", "baseline": "alphabetic", "color": "#000"}, "encoding": {"x": {"datum": 160.41}, "y": {"datum": 23.46}}}
]
}
], "spacing": 87},
{"resolve": {"scale": {"shape": "independent", "fill": "independent", "stroke": "independent"}},
"hconcat": [
{
"width": 574, "height": 380,
"data": {"name": "Mg"},
"encoding": {
"x": {"type": "quantitative", "scale": {"domain": [64.205, 176.49], "nice": false, "zero": false},
 "axis": {"title": "Dias após a poda", "values": [76,83,90,97,104,111,118,125,132,139,146,153,160,167,174], "domain": false, "grid": false, "offset": -90.3, "tickSize": 5, "tickColor": "#000", "labelFontSize": 13, "labelColor": "#111", "labelPadding": 3, "labelFlush": false, "labelOverlap": false, "titleFontSize": 15, "titleFontWeight": "bold", "titleColor": "#000", "titleX": 313, "titleY": 42.3, "titleBaseline": "middle", "titleAlign": "center", "titleAngle": 0}},
"y": {"type": "quantitative", "scale": {"domain": [-6.55, 21.016], "nice": false, "zero": false},
 "axis": {"title": "Concentração de Mg, g kg⁻¹", "values": [0,2,4,6,8,10,12,14,16,18,20], "domain": false, "grid": false, "offset": -60.3, "tickSize": 5, "tickColor": "#000", "labelFontSize": 13, "labelColor": "#111", "labelPadding": 4, "labelOverlap": false, "titleFontSize": 15, "titleFontWeight": "bold", "titleColor": "#000", "titleX": -38, "titleY": 153.3, "titleBaseline": "middle", "titleAlign": "center", "titleAngle": -90}}
},
"layer": [
{"encoding": {"x": {"field": "dia"}, "y": {"field": "v"}},
"layer": [
{"transform": [{"filter": {"field": "serie", "equal": "Limbo foliar"}}], "mark": {"type": "line", "interpolate": "catmull-rom", "strokeWidth": 1.3, "color": "#22A022"}},
{"transform": [{"filter": {"field": "serie", "equal": "Ramo"}}], "mark": {"type": "line", "interpolate": "catmull-rom", "strokeWidth": 1.3, "color": "#BF4A1C"}},
{"transform": [{"filter": {"field": "serie", "equal": "Pecíolo"}}], "mark": {"type": "line", "interpolate": "catmull-rom", "strokeWidth": 1.3, "color": "#A3A31C"}}
]},
{"data": {"values": [{}]}, "mark": {"type": "rect", "fill": "#FFFFFF"}, "encoding": {"x": {"datum": 160.31}, "x2": {"datum": 173.36}, "y": {"datum": 19.69}, "y2": {"datum": 15.815}}},
{"data": {"values": [{}]}, "mark": {"type": "rule", "color": "#000", "strokeWidth": 1}, "encoding": {"x": {"datum": 76}, "x2": {"datum": 174}, "y": {"datum": 0}}},
{"data": {"values": [{}]}, "mark": {"type": "rule", "color": "#000", "strokeWidth": 1}, "encoding": {"x": {"datum": 76}, "y": {"datum": 0}, "y2": {"datum": 20}}},
{"encoding": {"x": {"field": "dia"}, "y": {"field": "v"}},
"layer": [
{"mark": {"type": "errorbar", "ticks": {"size": 8, "thickness": 1.2, "color": "#222"}, "rule": {"strokeWidth": 1.2, "color": "#222"}, "color": "#222"}, "encoding": {"yError": {"field": "e"}}},
{"transform": [{"filter": {"field": "serie", "equal": "Limbo foliar"}}], "mark": {"type": "point", "shape": "square", "filled": true, "fill": "#66BB22", "stroke": "#2A7A0A", "strokeWidth": 1, "size": 70, "opacity": 1}},
{"transform": [{"filter": {"field": "serie", "equal": "Ramo"}}], "mark": {"type": "point", "shape": "diamond", "filled": true, "fill": "#FACBB0", "stroke": "#C8502A", "strokeWidth": 1, "size": 75, "opacity": 1}},
{"transform": [{"filter": {"field": "serie", "equal": "Pecíolo"}}], "mark": {"type": "point", "shape": "triangle-up", "filled": true, "fill": "#FFFF00", "stroke": "#8F8F00", "strokeWidth": 1, "size": 75, "opacity": 1}},
{"transform": [{"filter": "false"}], "mark": {"type": "point", "filled": true, "opacity": 1, "strokeWidth": 1},
 "encoding": {
  "shape": {"field": "serie", "type": "nominal", "scale": {"domain": ["Limbo foliar","Ramo","Pecíolo"], "range": ["M-1,0H-0.2M0.2,0H1M-0.2,-0.2H0.2V0.2H-0.2Z", "M-1,0H-0.25M0.25,0H1M0,-0.25L0.25,0L0,0.25L-0.25,0Z", "M-1,0H-0.14M0.14,0H1M0,-0.24L0.24,0.18L-0.24,0.18Z"]},
   "legend": {"orient": "none", "legendX": 137.5, "legendY": 342.5, "direction": "horizontal", "title": null, "symbolSize": 1296, "symbolStrokeWidth": 1, "labelFontSize": 14.5, "labelColor": "#000", "labelOffset": 2, "columnPadding": 20, "padding": 0}},
  "fill": {"field": "serie", "type": "nominal", "scale": {"domain": ["Limbo foliar","Ramo","Pecíolo"], "range": ["#66BB22","#FACBB0","#FFFF00"]},
   "legend": {"orient": "none", "legendX": 137.5, "legendY": 342.5, "direction": "horizontal", "title": null, "symbolSize": 1296, "symbolStrokeWidth": 1, "labelFontSize": 14.5, "labelColor": "#000", "labelOffset": 2, "columnPadding": 20, "padding": 0}},
  "stroke": {"field": "serie", "type": "nominal", "scale": {"domain": ["Limbo foliar","Ramo","Pecíolo"], "range": ["#22A022","#BF4A1C","#A3A31C"]},
   "legend": {"orient": "none", "legendX": 137.5, "legendY": 342.5, "direction": "horizontal", "title": null, "symbolSize": 1296, "symbolStrokeWidth": 1, "labelFontSize": 14.5, "labelColor": "#000", "labelOffset": 2, "columnPadding": 20, "padding": 0}}
 }}
]},
{"data": {"values": [{}]}, "mark": {"type": "text", "text": "e", "fontSize": 28, "fontWeight": "bold", "align": "left", "baseline": "alphabetic", "color": "#000"}, "encoding": {"x": {"datum": 160.25}, "y": {"datum": 17.875}}}
]
},
{
"width": 560, "height": 380,
"view": {"fill": null, "stroke": null},
"data": {"name": "cap"},
"encoding": {
"y": {"field": "linha", "type": "ordinal", "scale": {"type": "point", "range": [108, 272], "padding": 0}, "axis": null},
"text": {"field": "txt"}
},
"layer": [
{"transform": [{"filter": "datum.peso === 'b'"}], "mark": {"type": "text", "font": "Liberation Serif", "fontSize": 29, "fontWeight": "bold", "align": "left", "baseline": "middle", "color": "#000"}, "encoding": {"x": {"value": 0}}},
{"transform": [{"filter": "datum.peso === 'r'"}], "mark": {"type": "text", "font": "Liberation Serif", "fontSize": 29, "align": "right", "baseline": "middle", "color": "#000"}, "encoding": {"x": {"value": 529}}},
{"transform": [{"filter": "datum.peso === 'n'"}], "mark": {"type": "text", "font": "Liberation Serif", "fontSize": 29, "align": "left", "baseline": "middle", "color": "#000"}, "encoding": {"x": {"value": 0}}}
]
}
], "spacing": 82}
],
"spacing": 10
}
